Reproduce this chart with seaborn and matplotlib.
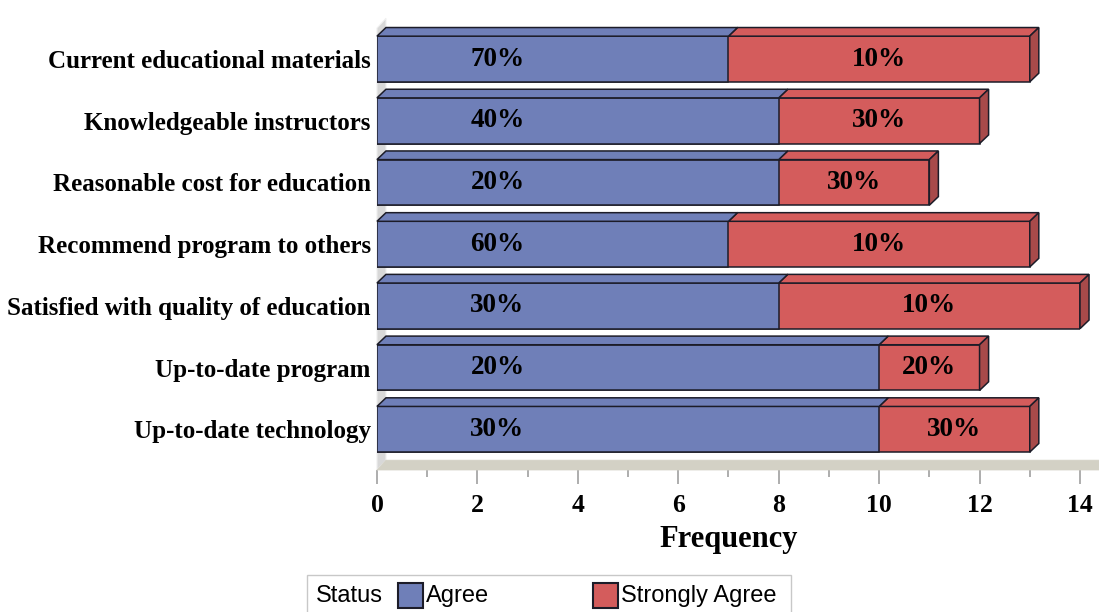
import numpy as np
import pandas as pd
import matplotlib
matplotlib.use("Agg")
import matplotlib.pyplot as plt
import seaborn as sns
from matplotlib.patches import Polygon, Rectangle
from matplotlib.ticker import MultipleLocator

# DATA

categories = [
    "Current educational materials",
    "Knowledgeable instructors",
    "Reasonable cost for education",
    "Recommend program to others",
    "Satisfied with quality of education",
    "Up-to-date program",
    "Up-to-date technology",
]
agree = [7, 8, 8, 7, 8, 10, 10]
strongly_agree = [6, 4, 3, 6, 6, 2, 3]
agree_labels = ["70%", "40%", "20%", "60%", "30%", "20%", "30%"]
strongly_labels = ["10%", "30%", "30%", "10%", "10%", "20%", "30%"]
x_ticks = [0, 2, 4, 6, 8, 10, 12, 14]

df = pd.DataFrame({"item": categories, "Agree": agree, "Strongly Agree": strongly_agree})
df["total"] = df["Agree"] + df["Strongly Agree"]

BLUE = "#6f7fb8"
RED = "#d45c5c"
RED_SIDE = "#a84a4a"
EDGE = "#1c1c28"
SERIF = "Liberation Serif"

sns.set_style("white")
plt.rcParams["font.family"] = [SERIF, "DejaVu Serif"]
plt.rcParams["text.color"] = "black"
plt.rcParams["xtick.labelcolor"] = "black"
plt.rcParams["ytick.labelcolor"] = "black"
plt.rcParams["axes.labelcolor"] = "black"

fig = plt.figure(figsize=(10.99, 6.12), dpi=100)
ax = fig.add_axes([0.343, 0.232, 0.6397, 0.722])

# STACKED BARS (total first, agree on top)

sns.barplot(data=df, x="total", y="item", color=RED, orient="h", width=0.74,
            saturation=1, edgecolor=EDGE, linewidth=1.1, ax=ax, zorder=3)
sns.barplot(data=df, x="Agree", y="item", color=BLUE, orient="h", width=0.74,
            saturation=1, edgecolor=EDGE, linewidth=1.1, ax=ax, zorder=4)

n = len(categories)
ax.set_xlim(0, 14)
ax.set_ylim(n - 0.34, -0.5)

# 3D EFFECT

dx, dy = 0.18, 0.14
red_bars = ax.patches[:n]
blue_bars = ax.patches[n:2 * n]
for rb, bb in zip(red_bars, blue_bars):
    top = rb.get_y()
    bot = rb.get_y() + rb.get_height()
    a = bb.get_width()
    t = rb.get_width()
    ax.add_patch(Polygon([(0, top), (a, top), (a + dx, top - dy), (dx, top - dy)],
                         closed=True, fc=BLUE, ec=EDGE, lw=1.1, zorder=4, clip_on=False))
    ax.add_patch(Polygon([(a, top), (t, top), (t + dx, top - dy), (a + dx, top - dy)],
                         closed=True, fc=RED, ec=EDGE, lw=1.1, zorder=3, clip_on=False))
    ax.add_patch(Polygon([(t, top), (t + dx, top - dy), (t + dx, bot - dy), (t, bot)],
                         closed=True, fc=RED_SIDE, ec=EDGE, lw=1.1, zorder=3, clip_on=False))

# WALL AND FLOOR

y_floor = n - 0.34
ax.add_patch(Polygon([(0, y_floor), (dx, y_floor - 0.16), (dx, -0.5 - 0.16), (0, -0.5)],
                     closed=True, fc="#d8d8d8", ec="#f0f0f0", lw=0.8, zorder=1, clip_on=False))
ax.add_patch(Polygon([(0, y_floor), (14.4, y_floor), (14.4 + dx, y_floor - 0.16), (dx, y_floor - 0.16)],
                     closed=True, fc="#d3d1c5", ec="#d3d1c5", lw=0.5, zorder=1, clip_on=False))

# LABELS IN BARS

for i in range(n):
    ax.text(2.4, i, agree_labels[i], ha="center", va="center",
            fontsize=19.5, fontweight="bold", color="black", zorder=6)
    ax.text((agree[i] + df["total"][i]) / 2, i, strongly_labels[i], ha="center", va="center",
            fontsize=19.5, fontweight="bold", color="black", zorder=6)

# AXES

for s in ax.spines.values():
    s.set_visible(False)
ax.set_xticks(x_ticks)
ax.xaxis.set_minor_locator(MultipleLocator(1))
ax.tick_params(axis="x", which="major", bottom=True, length=10, width=1.2, color="#a0a0a0", pad=7)
ax.tick_params(axis="x", which="minor", bottom=True, length=5, width=1.2, color="#a0a0a0")
ax.tick_params(axis="y", left=False, pad=1)
for lab in ax.get_xticklabels():
    lab.set_fontsize(18.5)
    lab.set_fontweight("bold")
for lab in ax.get_yticklabels():
    lab.set_fontsize(18)
    lab.set_fontweight("bold")
ax.set_ylabel("")
ax.set_xlabel("Frequency", fontsize=22, fontweight="bold", labelpad=6)
ax.grid(False)

# LEGEND

fig.add_artist(Rectangle((307 / 1099, -0.05), 484 / 1099, 0.05 + 1 - 575 / 612,
                         transform=fig.transFigure, fc="white", ec="#c8c8c8", lw=1))
leg_y = 1 - 596 / 612
fig.text(316 / 1099, leg_y, "Status", fontsize=17, family="Liberation Sans", va="center")
fig.add_artist(Rectangle((398 / 1099, 1 - 608 / 612), 25 / 1099, 25 / 612,
                         transform=fig.transFigure, fc=BLUE, ec=EDGE, lw=1.5))
fig.text(426 / 1099, leg_y, "Agree", fontsize=17, family="Liberation Sans", va="center")
fig.add_artist(Rectangle((593 / 1099, 1 - 608 / 612), 25 / 1099, 25 / 612,
                         transform=fig.transFigure, fc=RED, ec=EDGE, lw=1.5))
fig.text(621 / 1099, leg_y, "Strongly Agree", fontsize=17, family="Liberation Sans", va="center")

fig.savefig("out.png", dpi=100)
